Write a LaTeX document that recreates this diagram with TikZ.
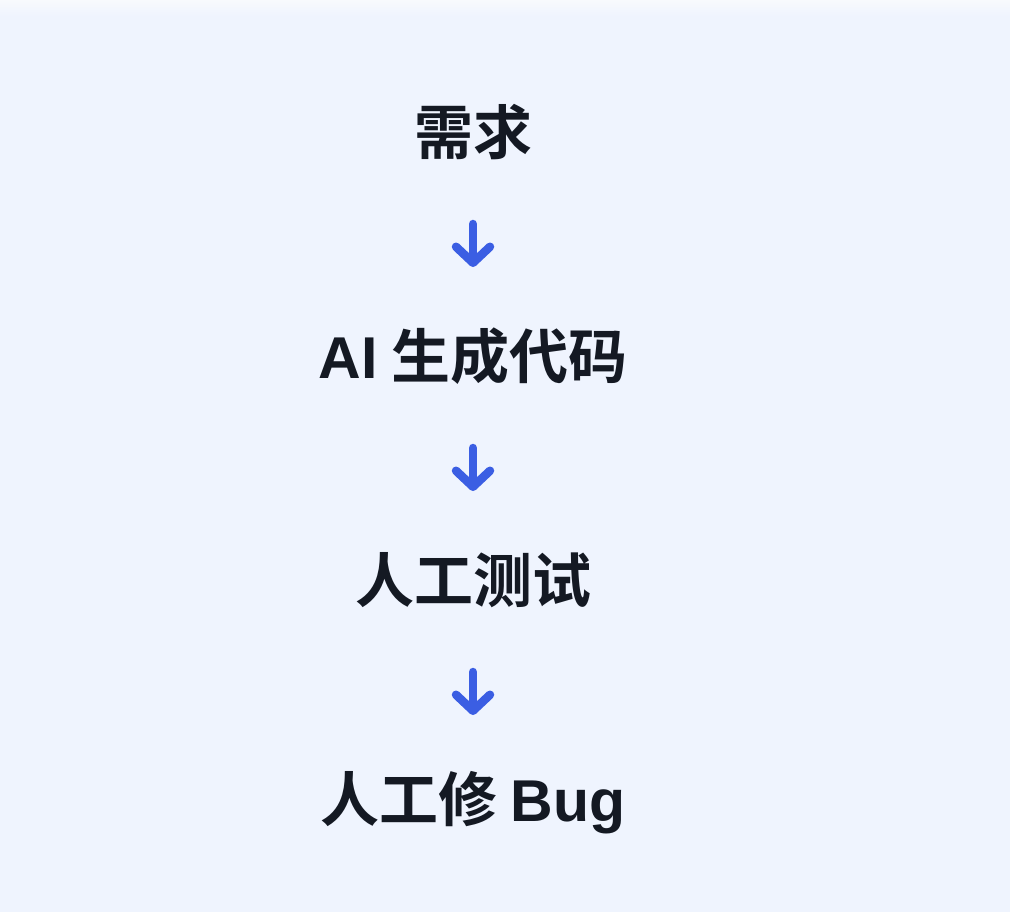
\documentclass[tikz,border=0pt]{standalone}
\usepackage{fontspec}
\setmainfont{Noto Sans CJK SC}[BoldFont={* Bold}]
\newfontfamily\latinb{Liberation Sans}
\usetikzlibrary{arrows.meta}
\definecolor{bgmain}{HTML}{EFF4FE}
\definecolor{bgtop}{HTML}{F8FAFD}
\definecolor{txt}{HTML}{141923}
\definecolor{arrowblue}{HTML}{3B5EE3}
\tikzset{
  x=1pt, y=1pt,
  stepbox/.style={text=txt, font=\fontsize{59}{63}\selectfont\bfseries, inner sep=0pt, anchor=center},
  flowarrow/.style={draw=arrowblue, line width=8.5pt, line cap=round,
    -{Straight Barb[length=16pt, width=34pt, line cap=round, line join=round]}},
}
\begin{document}
\begin{tikzpicture}
\useasboundingbox (0,0) rectangle (1010,-912);
\fill[bgmain] (0,0) rectangle (1010,-912);
\shade[top color=bgtop, bottom color=bgmain] (0,0) rectangle (1010,-16);
\node[stepbox] (n1) at (473,-132) {需求};
\node[stepbox] (n2) at (473,-356) {{\latinb\bfseries AI} 生成代码};
\node[stepbox] (n3) at (473,-580) {人工测试};
\node[stepbox] (n4) at (473,-803) {人工修 {\latinb\bfseries Bug}};
\draw[flowarrow, shorten <=92pt, shorten >=89pt] (n1.center) -- (n2.center);
\draw[flowarrow, shorten <=92pt, shorten >=89pt] (n2.center) -- (n3.center);
\draw[flowarrow, shorten <=92pt, shorten >=88pt] (n3.center) -- (n4.center);
\end{tikzpicture}
\end{document}
